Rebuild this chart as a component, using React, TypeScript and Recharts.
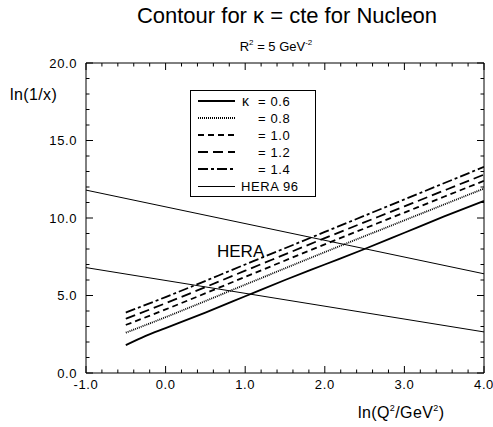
import React from "react";
import { ComposedChart, Line, XAxis, YAxis } from "recharts";

const X_TICKS = [-1, -0.8, -0.6, -0.4, -0.2, 0, 0.2, 0.4, 0.6, 0.8, 1, 1.2, 1.4, 1.6, 1.8, 2, 2.2, 2.4, 2.6, 2.8, 3, 3.2, 3.4, 3.6, 3.8, 4];
const Y_TICKS = [0, 1, 2, 3, 4, 5, 6, 7, 8, 9, 10, 11, 12, 13, 14, 15, 16, 17, 18, 19, 20];

const K06 = [
  { x: -0.5, y: 1.8 }, { x: -0.25, y: 2.4 }, { x: 0, y: 2.9 }, { x: 0.5, y: 3.9 },
  { x: 1, y: 4.95 }, { x: 1.5, y: 6.0 }, { x: 2, y: 7.0 }, { x: 2.5, y: 8.0 },
  { x: 3, y: 9.05 }, { x: 3.5, y: 10.1 }, { x: 4, y: 11.1 },
];
const K08 = [
  { x: -0.5, y: 2.6 }, { x: 0, y: 3.6 }, { x: 1, y: 5.7 }, { x: 2, y: 7.8 }, { x: 3, y: 9.85 }, { x: 4, y: 11.9 },
];
const K10 = [
  { x: -0.5, y: 3.1 }, { x: 0, y: 4.1 }, { x: 1, y: 6.2 }, { x: 2, y: 8.3 }, { x: 3, y: 10.35 }, { x: 4, y: 12.4 },
];
const K12 = [
  { x: -0.5, y: 3.5 }, { x: 0, y: 4.5 }, { x: 1, y: 6.6 }, { x: 2, y: 8.7 }, { x: 3, y: 10.75 }, { x: 4, y: 12.8 },
];
const K14 = [
  { x: -0.5, y: 3.9 }, { x: 0, y: 4.9 }, { x: 1, y: 7.0 }, { x: 2, y: 9.1 }, { x: 3, y: 11.2 }, { x: 4, y: 13.3 },
];
const HERA_UPPER = [{ x: -1, y: 11.8 }, { x: 4, y: 6.4 }];
const HERA_LOWER = [{ x: -1, y: 6.8 }, { x: 4, y: 2.65 }];

const SERIES = [
  { key: "k06", data: K06, prefix: "κ", label: "= 0.6", dash: undefined as string | undefined, width: 1.8 },
  { key: "k08", data: K08, prefix: "", label: "= 0.8", dash: "1 1", width: 1.8 },
  { key: "k10", data: K10, prefix: "", label: "= 1.0", dash: "6 4", width: 1.8 },
  { key: "k12", data: K12, prefix: "", label: "= 1.2", dash: "10 5", width: 1.8 },
  { key: "k14", data: K14, prefix: "", label: "= 1.4", dash: "10 3 3 3", width: 1.8 },
];
const HERA_LABEL = "HERA 96";

const FONT = "'Liberation Sans', Arial, sans-serif";
const isMajor = (v: number, step: number) => Math.abs(v / step - Math.round(v / step)) < 1e-6;

const BottomTick = (props: any) => {
  const { x, y, payload } = props;
  const v = payload.value;
  const major = isMajor(v, 1);
  return (
    <g>
      <line x1={x} y1={y} x2={x} y2={y - (major ? 7 : 3.5)} stroke="#000" strokeWidth={1} />
      {major && (
        <text x={x} y={y + 16} textAnchor="middle" fontSize={13} fontFamily={FONT} letterSpacing={0.6} fill="#000">
          {v.toFixed(1)}
        </text>
      )}
    </g>
  );
};
const TopTick = (props: any) => {
  const { x, y, payload } = props;
  const major = isMajor(payload.value, 1);
  return <line x1={x} y1={y} x2={x} y2={y + (major ? 7 : 3.5)} stroke="#000" strokeWidth={1} />;
};
const LeftTick = (props: any) => {
  const { x, y, payload } = props;
  const v = payload.value;
  const major = isMajor(v, 5);
  return (
    <g>
      <line x1={x} y1={y} x2={x + (major ? 7 : 3.5)} y2={y} stroke="#000" strokeWidth={1} />
      {major && (
        <text x={x - 9} y={y + 4.5} textAnchor="end" fontSize={13} fontFamily={FONT} letterSpacing={0.6} fill="#000">
          {v.toFixed(1)}
        </text>
      )}
    </g>
  );
};
const RightTick = (props: any) => {
  const { x, y, payload } = props;
  const major = isMajor(payload.value, 5);
  return <line x1={x} y1={y} x2={x - (major ? 7 : 3.5)} y2={y} stroke="#000" strokeWidth={1} />;
};

export default function App() {
  return (
    <div style={{ position: "absolute", left: 0, top: 0, width: 493, height: 427, background: "#fff" }}>
      <ComposedChart width={493} height={427} margin={{ top: 62, right: 8, bottom: 53, left: 85 }}>
        <XAxis xAxisId="b" dataKey="x" type="number" domain={[-1, 4]} ticks={X_TICKS} interval={0}
          height={1} tickSize={0} tickMargin={0} tickLine={false} axisLine={{ stroke: "#000" }} tick={<BottomTick />} allowDataOverflow />
        <XAxis xAxisId="t" orientation="top" dataKey="x" type="number" domain={[-1, 4]} ticks={X_TICKS} interval={0}
          height={1} tickSize={0} tickMargin={0} tickLine={false} axisLine={{ stroke: "#000" }} tick={<TopTick />} allowDataOverflow />
        <YAxis yAxisId="l" type="number" domain={[0, 20]} ticks={Y_TICKS} interval={0}
          width={1} tickSize={0} tickMargin={0} tickLine={false} axisLine={{ stroke: "#000" }} tick={<LeftTick />} allowDataOverflow />
        <YAxis yAxisId="r" orientation="right" type="number" domain={[0, 20]} ticks={Y_TICKS} interval={0}
          width={1} tickSize={0} tickMargin={0} tickLine={false} axisLine={{ stroke: "#000" }} tick={<RightTick />} allowDataOverflow />
        <Line xAxisId="b" yAxisId="l" data={HERA_UPPER} dataKey="y" type="linear" stroke="#000" strokeWidth={1} dot={false} isAnimationActive={false} />
        <Line xAxisId="b" yAxisId="l" data={HERA_LOWER} dataKey="y" type="linear" stroke="#000" strokeWidth={1} dot={false} isAnimationActive={false} />
        {SERIES.map((s) => (
          <Line key={s.key} xAxisId="b" yAxisId="l" data={s.data} dataKey="y" type="monotone" stroke="#000"
            strokeWidth={s.width} strokeDasharray={s.dash} dot={false} isAnimationActive={false} />
        ))}
      </ComposedChart>
      <svg width={493} height={427} style={{ position: "absolute", left: 0, top: 0, pointerEvents: "none" }}>
        <text x={287} y={23} textAnchor="middle" fontSize={22} fontFamily={FONT} fill="#000">
          Contour for κ = cte for Nucleon
        </text>
        <text x={276} y={50.5} textAnchor="middle" fontSize={13} fontFamily={FONT} fill="#000">
          R<tspan fontSize={8} dy={-6}>2</tspan><tspan dy={6}> = 5 GeV</tspan><tspan fontSize={8} dy={-6}>-2</tspan>
        </text>
        <text x={10} y={100} fontSize={16} fontFamily={FONT} letterSpacing={0.4} fill="#000">ln(1/x)</text>
        <text x={358} y={418} fontSize={16} fontFamily={FONT} letterSpacing={0.4} fill="#000">
          ln(Q<tspan fontSize={9} dy={-7}>2</tspan><tspan dy={7}>/GeV</tspan><tspan fontSize={9} dy={-7}>2</tspan><tspan dy={7}>)</tspan>
        </text>
        <text x={217} y={257} fontSize={17} fontFamily={FONT} fill="#000">HERA</text>
        <rect x={190.5} y={90.5} width={125} height={106} fill="#fff" stroke="#000" strokeWidth={1} />
        {SERIES.map((s, i) => {
          const cy = 101 + i * 17;
          return (
            <g key={s.key}>
              <line x1={198} y1={cy} x2={235} y2={cy} stroke="#000" strokeWidth={s.width} strokeDasharray={s.dash} />
              {s.prefix && (
                <text x={242} y={cy + 4.5} fontSize={14} fontFamily={FONT} fill="#000">{s.prefix}</text>
              )}
              <text x={258} y={cy + 4.5} fontSize={13} fontFamily={FONT} letterSpacing={0.6} fill="#000">{s.label}</text>
            </g>
          );
        })}
        <line x1={198} y1={186.5} x2={235} y2={186.5} stroke="#000" strokeWidth={1} />
        <text x={241} y={190.5} fontSize={13} fontFamily={FONT} letterSpacing={0.6} fill="#000">{HERA_LABEL}</text>
      </svg>
    </div>
  );
}
